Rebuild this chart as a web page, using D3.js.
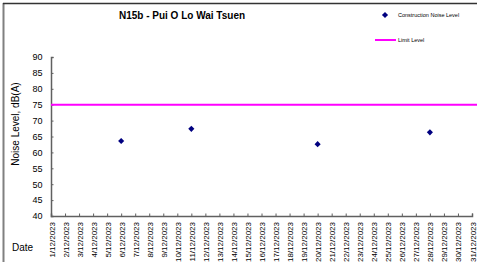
<!DOCTYPE html>
<html><head><meta charset="utf-8">
<script src="https://cdn.jsdelivr.net/npm/d3@7"></script>
<style>body{margin:0;background:#fff}svg{display:block;font-family:Arial,"Liberation Sans",sans-serif}</style>
</head><body>
<svg id="c" width="477" height="262"></svg>
<script>
const title = "N15b - Pui O Lo Wai Tsuen";
const dates = d3.range(1, 32).map(d => d + "/12/2023");
const noiseDates = ["6/12/2023", "11/12/2023", "20/12/2023", "28/12/2023"];
const noiseValues = [63.6, 67.4, 62.6, 66.3];
const limitValue = 75;
const yTicks = [40, 45, 50, 55, 60, 65, 70, 75, 80, 85, 90];

const svg = d3.select("#c");
const x = d3.scalePoint().domain(dates).range([51, 472]);
const y = d3.scaleLinear().domain([40, 90]).range([216, 57]);

// frame
svg.append("line").attr("x1", 3.5).attr("x2", 3.5).attr("y1", 3).attr("y2", 262).attr("stroke", "#808080").attr("stroke-width", 2);
svg.append("line").attr("x1", 3).attr("x2", 477).attr("y1", 3.5).attr("y2", 3.5).attr("stroke", "#333").attr("stroke-width", 1.5);

// title
svg.append("text").attr("x", 182).attr("y", 19).attr("text-anchor", "middle")
  .attr("font-size", 10).attr("font-weight", "bold").text(title);

// y axis
const ya = svg.append("g").attr("transform", "translate(51,0)")
  .call(d3.axisLeft(y).tickValues(yTicks).tickSize(-2.5).tickPadding(8.5));
ya.select(".domain").attr("stroke", "#606060").attr("stroke-width", 1.5);
ya.selectAll(".tick line").attr("stroke", "#606060");
ya.selectAll("text").attr("font-size", 9).attr("fill", "#000");

// x axis
const xa = svg.append("g").attr("transform", "translate(0,216)")
  .call(d3.axisBottom(x).tickSize(-2.5).tickPadding(0));
xa.select(".domain").attr("stroke", "#606060").attr("stroke-width", 1.5);
xa.selectAll(".tick line").attr("stroke", "#606060");
xa.selectAll("text").attr("font-size", 8).attr("fill", "#000")
  .attr("text-anchor", "end").attr("dy", null)
  .attr("transform", "translate(3,6) rotate(-90)");

// axis titles
svg.append("text").attr("transform", "translate(19,124) rotate(-90)").attr("text-anchor", "middle")
  .attr("font-size", 10).text("Noise Level, dB(A)");
svg.append("text").attr("x", 12).attr("y", 251).attr("font-size", 10).text("Date");

// limit line
svg.append("line").attr("x1", 51).attr("x2", 477).attr("y1", y(limitValue)).attr("y2", y(limitValue))
  .attr("stroke", "#ff00ff").attr("stroke-width", 2);

// points
const diamond = d3.symbol().type(d3.symbolDiamond2).size(24);
svg.selectAll(".pt").data(noiseDates.map((d, i) => ({d, v: noiseValues[i]}))).join("path")
  .attr("class", "pt").attr("d", diamond)
  .attr("transform", p => `translate(${x(p.d)},${y(p.v)})`).attr("fill", "#000080");

// legend
svg.append("path").attr("d", diamond).attr("transform", "translate(385,15)").attr("fill", "#000080");
svg.append("text").attr("x", 398).attr("y", 17).attr("font-size", 5.5).text("Construction Noise Level");
svg.append("line").attr("x1", 375).attr("x2", 396).attr("y1", 40).attr("y2", 40).attr("stroke", "#ff00ff").attr("stroke-width", 2);
svg.append("text").attr("x", 398).attr("y", 42).attr("font-size", 5.5).text("Limit Level");
</script>
</body></html>
